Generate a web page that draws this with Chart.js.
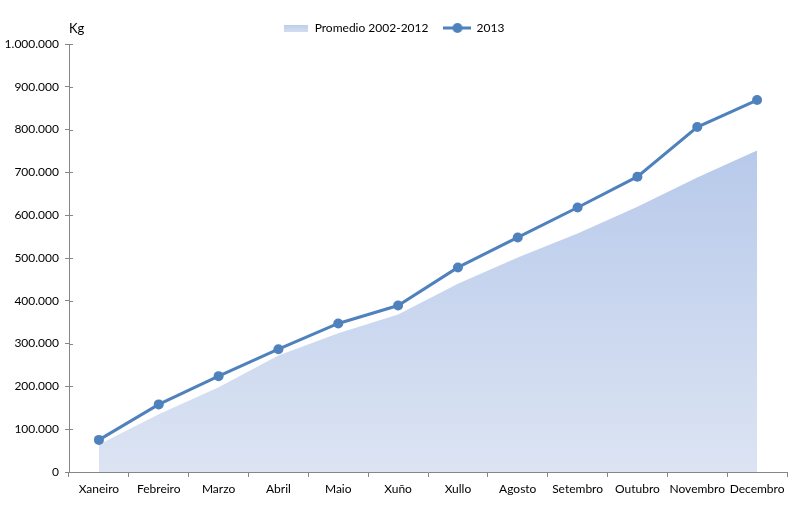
<!DOCTYPE html>
<html>
<head>
<meta charset="utf-8">
<script src="https://cdn.jsdelivr.net/npm/chart.js@4/dist/chart.umd.min.js"></script>
<style>
  html, body { margin: 0; padding: 0; background: #fff; }
  #wrap { width: 803px; height: 514px; position: relative; }
</style>
</head>
<body>
<div id="wrap"><canvas id="lineChart" width="803" height="514"></canvas></div>
<script>
// months (Galician) and values in kg
var meses = ['Xaneiro', 'Febreiro', 'Marzo', 'Abril', 'Maio', 'Xuño', 'Xullo', 'Agosto', 'Setembro', 'Outubro', 'Novembro', 'Decembro'];
var promedio = [64000, 135000, 198000, 272000, 324000, 368000, 440000, 501000, 557000, 620000, 688000, 751000];
var ano2013 = [75000, 158000, 224000, 287000, 347000, 389000, 478000, 548000, 618000, 690000, 806000, 869000];
var yTicks = [0, 100000, 200000, 300000, 400000, 500000, 600000, 700000, 800000, 900000, 1000000];

var fontFam = 'Lato, "Open Sans", sans-serif';
var axisGray = '#868686';
var lineBlue = '#4f81bd';

function formatKg(v) {
    return v.toString().replace(/\B(?=(\d{3})+(?!\d))/g, '.');
}

// small legend icons
function areaIcon() {
    var c = document.createElement('canvas');
    c.width = 24; c.height = 7;
    var g = c.getContext('2d');
    var grad = g.createLinearGradient(0, 0, 0, 7);
    grad.addColorStop(0, '#bccdeb');
    grad.addColorStop(1, '#d3ddf1');
    g.fillStyle = grad;
    g.fillRect(0, 0, 24, 7);
    return c;
}
function lineIcon() {
    var c = document.createElement('canvas');
    c.width = 28; c.height = 12;
    var g = c.getContext('2d');
    g.strokeStyle = lineBlue;
    g.lineWidth = 3;
    g.beginPath();
    g.moveTo(0, 6); g.lineTo(28, 6);
    g.stroke();
    g.fillStyle = lineBlue;
    g.beginPath();
    g.arc(14, 6, 5, 0, Math.PI * 2);
    g.fill();
    return c;
}
var iconArea = areaIcon();
var iconLine = lineIcon();

// "Kg" label above the y axis, plus inner half of y ticks
var kgLabel = {
    id: 'kgLabel',
    afterDraw: function(chart) {
        var ctx = chart.ctx;
        ctx.save();
        ctx.fillStyle = '#000';
        ctx.font = '13px ' + fontFam;
        ctx.textAlign = 'left';
        ctx.textBaseline = 'middle';
        ctx.fillText('Kg', chart.chartArea.left, 29);
        var y = chart.scales.y;
        ctx.strokeStyle = axisGray;
        ctx.lineWidth = 1;
        yTicks.forEach(function(t) {
            var py = Math.round(y.getPixelForValue(t)) + 0.5;
            ctx.beginPath();
            ctx.moveTo(chart.chartArea.left, py);
            ctx.lineTo(chart.chartArea.left + 4, py);
            ctx.stroke();
        });
        ctx.restore();
    }
};

var ctx = document.getElementById('lineChart').getContext('2d');

var lineChart = new Chart(ctx, {
    type: 'line',
    data: {
        labels: meses,
        datasets: [{
            label: '2013',
            data: ano2013,
            borderColor: lineBlue,
            backgroundColor: lineBlue,
            borderWidth: 3,
            pointRadius: 5,
            pointBackgroundColor: lineBlue,
            pointBorderColor: lineBlue,
            pointBorderWidth: 0,
            fill: false,
            tension: 0,
            order: 1
        }, {
            label: 'Promedio 2002-2012',
            data: promedio,
            borderWidth: 0,
            borderColor: 'rgba(0,0,0,0)',
            pointRadius: 0,
            fill: 'origin',
            tension: 0,
            order: 2,
            backgroundColor: function(context) {
                var chart = context.chart;
                var area = chart.chartArea;
                if (!area) return '#c6d4ee';
                var top = chart.scales.y.getPixelForValue(760000);
                var g = chart.ctx.createLinearGradient(0, top, 0, area.bottom);
                g.addColorStop(0, '#b7c9ea');
                g.addColorStop(1, '#dce4f3');
                return g;
            }
        }]
    },
    options: {
        responsive: false,
        animation: false,
        layout: { padding: { top: 6, right: 16, left: 0, bottom: 0 } },
        plugins: {
            legend: {
                position: 'top',
                labels: {
                    color: '#000',
                    font: { family: fontFam, size: 12 },
                    usePointStyle: true,
                    pointStyleWidth: 26,
                    padding: 16,
                    generateLabels: function(chart) {
                        return [{
                            text: 'Promedio 2002-2012',
                            pointStyle: iconArea,
                            lineWidth: 0,
                            datasetIndex: 1
                        }, {
                            text: '2013',
                            pointStyle: iconLine,
                            lineWidth: 0,
                            datasetIndex: 0
                        }];
                    }
                }
            },
            tooltip: { enabled: false }
        },
        scales: {
            x: {
                offset: true,
                grid: {
                    offset: true,
                    drawOnChartArea: false,
                    drawTicks: true,
                    tickLength: 5,
                    color: axisGray
                },
                border: { color: axisGray, width: 1 },
                ticks: {
                    color: '#000',
                    font: { family: fontFam, size: 12 },
                    maxRotation: 0,
                    autoSkip: false,
                    padding: 5
                },
                afterFit: function(scale) { scale.height = 42; }
            },
            y: {
                min: 0,
                max: 1000000,
                afterBuildTicks: function(scale) {
                    scale.ticks = yTicks.map(function(v) { return { value: v }; });
                },
                grid: {
                    drawOnChartArea: false,
                    drawTicks: true,
                    tickLength: 4,
                    color: axisGray
                },
                border: { color: axisGray, width: 1 },
                ticks: {
                    color: '#000',
                    font: { family: fontFam, size: 12 },
                    padding: 6,
                    callback: function(v) { return formatKg(v); }
                },
                afterFit: function(scale) { scale.width = 69; }
            }
        }
    },
    plugins: [kgLabel]
});
</script>
</body>
</html>
